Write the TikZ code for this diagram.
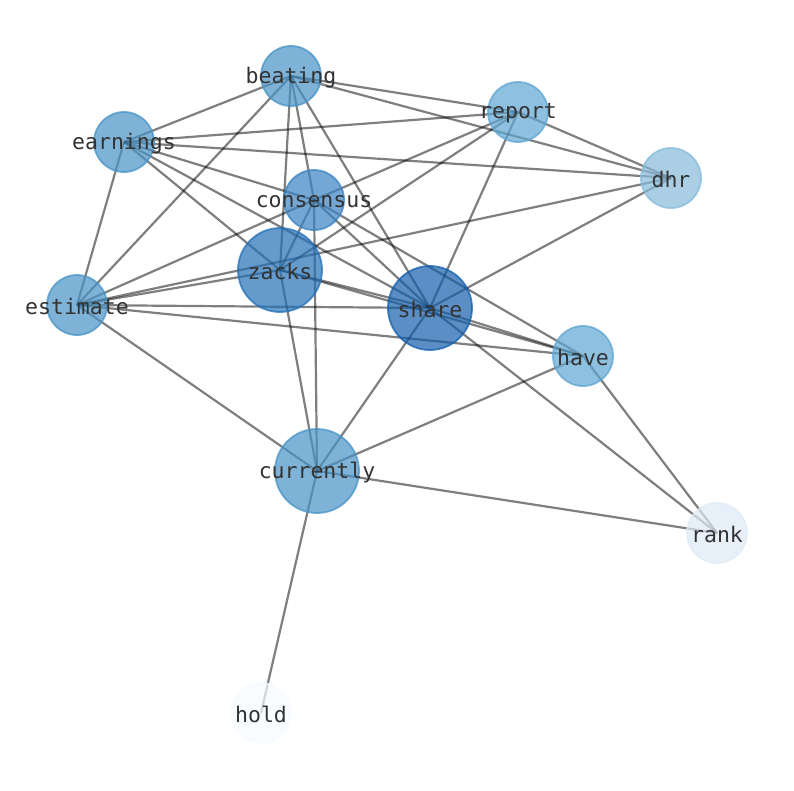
\documentclass[tikz,border=0pt]{standalone}
\usepackage{fontspec}
\setmonofont{DejaVu Sans Mono}
\usetikzlibrary{backgrounds}
\definecolor{cHold}{HTML}{F7FBFF}
\definecolor{cRank}{HTML}{DEEBF7}
\definecolor{cDhr}{HTML}{87BCDB}
\definecolor{cLight}{HTML}{5FA6D3}
\definecolor{cMid}{HTML}{4894C7}
\definecolor{cCons}{HTML}{3A83C2}
\definecolor{cZacks}{HTML}{2471B7}
\definecolor{cShare}{HTML}{145FAB}
\definecolor{txt}{HTML}{333333}
\tikzset{
  vert/.style={circle, inner sep=0pt, minimum size=60pt, fill=#1, draw=#1,
    fill opacity=0.7, draw opacity=0.75, line width=1.8pt},
  bigvert/.style={vert=#1, minimum size=84pt},
  lbl/.style={font=\ttfamily\fontsize{21.5}{24}\selectfont, text=txt, inner sep=0pt, yshift=-1.5pt},
  edge/.style={draw=black, draw opacity=0.5, line width=2.2pt}
}
\begin{document}
\begin{tikzpicture}[x=1pt,y=-1pt]
\useasboundingbox (0,0) rectangle (794,790);
% nodes
\node[vert=cMid] (beating) at (291,76) {};
\node[vert=cLight] (report) at (518,112) {};
\node[vert=cMid] (earnings) at (124,142) {};
\node[vert=cDhr] (dhr) at (671,178) {};
\node[vert=cCons] (consensus) at (314,200) {};
\node[bigvert=cZacks] (zacks) at (280,270) {};
\node[vert=cMid] (estimate) at (77,305) {};
\node[bigvert=cShare] (share) at (430,308) {};
\node[vert=cLight] (have) at (583,356) {};
\node[bigvert=cMid] (currently) at (317,471) {};
\node[vert=cRank] (rank) at (717,533) {};
\node[vert=cHold] (hold) at (261,713) {};
% labels
\node[lbl] (t-beating) at (beating) {beating};
\node[lbl] (t-report) at (report) {report};
\node[lbl] (t-earnings) at (earnings) {earnings};
\node[lbl] (t-dhr) at (dhr) {dhr};
\node[lbl] (t-consensus) at (consensus) {consensus};
\node[lbl] (t-zacks) at (zacks) {zacks};
\node[lbl] (t-estimate) at (estimate) {estimate};
\node[lbl] (t-share) at (share) {share};
\node[lbl] (t-have) at (have) {have};
\node[lbl] (t-currently) at (currently) {currently};
\node[lbl] (t-rank) at (rank) {rank};
\node[lbl] (t-hold) at (hold) {hold};
% edges
\begin{pgfonlayer}{background}
\fill[white] (0,0) rectangle (794,790);
\foreach \a/\b in {beating/earnings, beating/report, beating/dhr, beating/consensus,
  beating/zacks, beating/share, beating/estimate,
  earnings/report, earnings/dhr, earnings/consensus, earnings/zacks, earnings/share, earnings/estimate,
  report/dhr, report/consensus, report/zacks, report/share,
  dhr/estimate, dhr/share,
  consensus/zacks, consensus/estimate, consensus/share, consensus/have, consensus/currently,
  zacks/estimate, zacks/share, zacks/have, zacks/currently,
  estimate/share, estimate/have, estimate/currently,
  share/have, share/currently, share/rank,
  have/currently, have/rank,
  currently/rank, currently/hold}
  \draw[edge] (\a.center) -- (\b.center);
\end{pgfonlayer}
\end{tikzpicture}
\end{document}
